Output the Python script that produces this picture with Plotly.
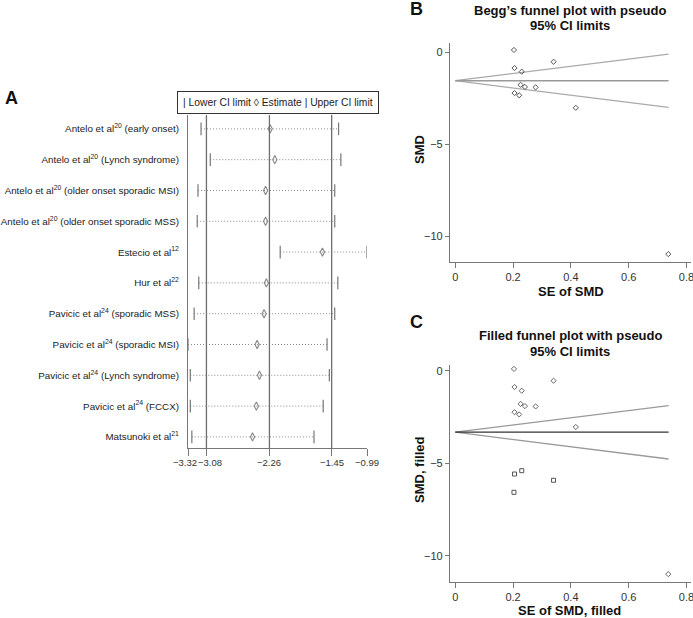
import plotly.graph_objects as go

W, H = 693, 618
FONT = "Liberation Sans, Arial, sans-serif"

# ---------------- Data ----------------
studies = [
    "Antelo et al<sup>20</sup> (early onset)",
    "Antelo et al<sup>20</sup> (Lynch syndrome)",
    "Antelo et al<sup>20</sup> (older onset sporadic MSI)",
    "Antelo et al<sup>20</sup> (older onset sporadic MSS)",
    "Estecio et al<sup>12</sup>",
    "Hur et al<sup>22</sup>",
    "Pavicic et al<sup>24</sup> (sporadic MSS)",
    "Pavicic et al<sup>24</sup> (sporadic MSI)",
    "Pavicic et al<sup>24</sup> (Lynch syndrome)",
    "Pavicic et al<sup>24</sup> (FCCX)",
    "Matsunoki et al<sup>21</sup>",
]
lower_ci = [-3.15, -3.03, -3.19, -3.20, -2.12, -3.18, -3.24, -3.32, -3.29, -3.29, -3.27]
estimate = [-2.25, -2.19, -2.31, -2.31, -1.57, -2.30, -2.33, -2.42, -2.39, -2.43, -2.48]
upper_ci = [-1.36, -1.33, -1.41, -1.41, -0.99, -1.37, -1.41, -1.51, -1.48, -1.56, -1.68]
pooled_lines = [-3.08, -2.26, -1.45]
a_tickvals = [-3.32, -3.08, -2.26, -1.45, -0.99]
a_ticktext = ["\u22123.32", "\u22123.08", "\u22122.26", "\u22121.45", "\u22120.99"]

se_smd = [0.203, 0.205, 0.230, 0.340, 0.226, 0.241, 0.278, 0.205, 0.221, 0.417, 0.737]
smd = [0.11, -0.87, -1.07, -0.53, -1.78, -1.90, -1.92, -2.23, -2.35, -3.03, -10.98]
se_filled = [0.205, 0.230, 0.340, 0.203]
smd_filled = [-5.57, -5.39, -5.91, -6.56]

# funnel limit lines (start, end)
funnel_se = [0.0, 0.738]
b_center = [-1.56, -1.56]
b_upper = [-1.56, -0.11]
b_lower = [-1.56, -3.01]
c_center = [-3.31, -3.31]
c_upper = [-3.31, -1.87]
c_lower = [-3.31, -4.76]

se_ticks = [0, 0.2, 0.4, 0.6, 0.8]
se_ticktext = ["0", "0.2", "0.4", "0.6", "0.8"]
smd_ticks = [0, -5, -10]
smd_ticktext = ["0", "\u22125", "\u221210"]


def px(x):
    return x / W


def py(y):
    return 1 - y / H


fig = go.Figure()

# ---------------- Panel A ----------------
rows = list(range(len(studies)))
lx, ly = [], []
for i in rows:
    lx += [lower_ci[i], upper_ci[i], None]
    ly += [i, i, None]
fig.add_trace(go.Scatter(x=lx, y=ly, mode="lines",
                         line=dict(color="#8a8a8a", width=1, dash="1px,2px"),
                         xaxis="x", yaxis="y", showlegend=False, hoverinfo="skip"))
for arr in (lower_ci, upper_ci):
    fig.add_trace(go.Scatter(x=arr, y=rows, mode="markers",
                             marker=dict(symbol="line-ns", size=9,
                                         line=dict(color="#777", width=1.2)),
                             xaxis="x", yaxis="y", showlegend=False))
fig.add_trace(go.Scatter(x=estimate, y=rows, mode="markers",
                         marker=dict(symbol="diamond-tall-open", size=6, color="#888",
                                     line=dict(width=1.1)),
                         xaxis="x", yaxis="y", showlegend=False))

shapes = []
for v in pooled_lines:
    shapes.append(dict(type="line", xref="x", yref="y domain", x0=v, x1=v, y0=0, y1=1,
                       line=dict(color="#6f6f6f", width=1.3)))

# ---------------- Panel B ----------------
for ys, col in ((b_upper, "#aaa"), (b_lower, "#aaa"), (b_center, "#999")):
    fig.add_trace(go.Scatter(x=funnel_se, y=ys, mode="lines", line=dict(color=col, width=1.3),
                             xaxis="x2", yaxis="y2", showlegend=False))
fig.add_trace(go.Scatter(x=se_smd, y=smd, mode="markers",
                         marker=dict(symbol="diamond-open", size=4, color="#555", line=dict(width=1)),
                         xaxis="x2", yaxis="y2", showlegend=False))

# ---------------- Panel C ----------------
for ys, col in ((c_upper, "#999"), (c_lower, "#999"), (c_center, "#333")):
    fig.add_trace(go.Scatter(x=funnel_se, y=ys, mode="lines", line=dict(color=col, width=1.3),
                             xaxis="x3", yaxis="y3", showlegend=False))
fig.add_trace(go.Scatter(x=se_smd, y=smd, mode="markers",
                         marker=dict(symbol="diamond-open", size=4, color="#666", line=dict(width=1)),
                         xaxis="x3", yaxis="y3", showlegend=False))
fig.add_trace(go.Scatter(x=se_filled, y=smd_filled, mode="markers",
                         marker=dict(symbol="square-open", size=4, color="#555", line=dict(width=1)),
                         xaxis="x3", yaxis="y3", showlegend=False))

axis_common = dict(showline=True, linecolor="#777", linewidth=1.2, showgrid=False,
                   zeroline=False, ticks="outside", tickcolor="#777", automargin=False,
                   tickangle=0, ticklabeloverflow="allow",
                   tickfont=dict(size=11, color="#333", family=FONT))

layout = dict(
    width=W, height=H, margin=dict(l=0, r=0, t=0, b=0, autoexpand=False),
    paper_bgcolor="white", plot_bgcolor="white",
    font=dict(family=FONT, color="#222"),
    shapes=shapes,
    xaxis=dict(domain=[px(188), px(367)], range=[-3.32, -0.99], anchor="y",
               tickvals=a_tickvals, ticklen=7, showticklabels=False,
               **{k: v for k, v in axis_common.items() if k != "tickfont"}),
    yaxis=dict(domain=[py(448), py(115)], range=[10.36, -0.45], anchor="x",
               tickvals=rows, ticktext=studies, showline=True, linecolor="#777",
               linewidth=1.2, showgrid=False, zeroline=False, ticks="",
               ticklabelstandoff=6, automargin=False, ticklabeloverflow="allow",
               tickfont=dict(size=9.8, color="#222", family=FONT)),
    xaxis2=dict(domain=[px(450), px(691)], range=[-0.0183, 0.8156], anchor="y2",
                tickvals=se_ticks, ticktext=se_ticktext, ticklen=5, **axis_common),
    yaxis2=dict(domain=[py(262), py(43)], range=[-11.41, 0.49], anchor="x2",
                tickvals=smd_ticks, ticktext=smd_ticktext, ticklen=4, **axis_common),
    xaxis3=dict(domain=[px(450), px(691)], range=[-0.0183, 0.8156], anchor="y3",
                tickvals=se_ticks, ticktext=se_ticktext, ticklen=5, **axis_common),
    yaxis3=dict(domain=[py(581.7), py(365)], range=[-11.39, 0.32], anchor="x3",
                tickvals=smd_ticks, ticktext=smd_ticktext, ticklen=4, **axis_common),
)


def ann(text, x, y, size, bold=False, angle=0, **kw):
    t = f"<b>{text}</b>" if bold else text
    d = dict(text=t, x=px(x), y=py(y), xref="paper", yref="paper", showarrow=False,
             xanchor="center", yanchor="middle", textangle=angle,
             font=dict(size=size, family=FONT, color="#111"))
    d.update(kw)
    return d


annotations = [
    ann("A", 11, 98, 18, bold=True),
    ann("B", 416, 9, 18, bold=True),
    ann("C", 416, 322, 18, bold=True),
    ann("Begg\u2019s funnel plot with pseudo", 570, 10, 13, bold=True),
    ann("95% CI limits", 570, 25, 13, bold=True),
    ann("Filled funnel plot with pseudo", 570, 335, 13, bold=True),
    ann("95% CI limits", 570, 351, 13, bold=True),
    ann("SE of SMD", 571, 292, 13, bold=True),
    ann("SE of SMD, filled", 569, 610, 13, bold=True),
    ann("SMD", 419, 150, 13, bold=True, angle=-90),
    ann("SMD, filled", 419, 470, 13, bold=True, angle=-90),
    dict(text="| Lower CI limit \u25ca Estimate | Upper CI limit",
         x=px(278), y=py(102), xref="paper", yref="paper", showarrow=False,
         xanchor="center", yanchor="middle",
         font=dict(size=10.3, family=FONT, color="#222"),
         bordercolor="#333", borderwidth=1, borderpad=5, bgcolor="white"),
]

# Panel A tick labels (nudged like the original so neighbours do not collide)
a_label_shift = [-3, 4, 0, 0, 0]
for v, t, s in zip(a_tickvals, a_ticktext, a_label_shift):
    annotations.append(dict(text=t, x=v, y=py(462), xref="x", yref="paper",
                            showarrow=False, xanchor="center", yanchor="middle", xshift=s,
                            font=dict(size=9.5, family=FONT, color="#333")))
layout["annotations"] = annotations

fig.update_layout(**layout)
fig.write_html("out.html", config={"displayModeBar": False},
               post_script="document.body.style.margin='0';document.body.style.padding='0';")
